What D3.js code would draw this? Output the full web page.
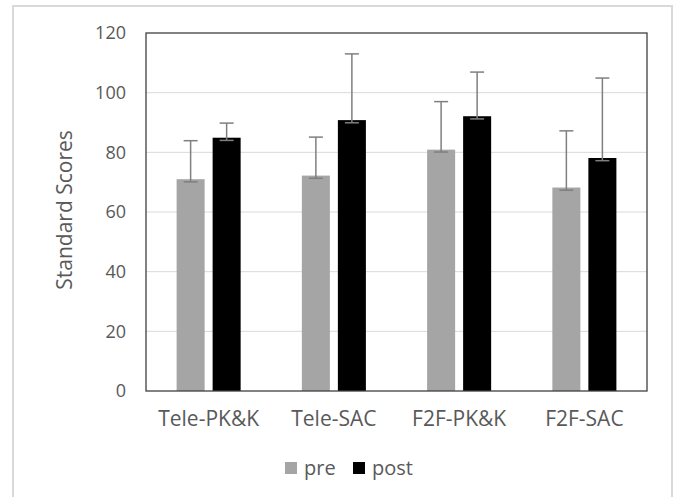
<!DOCTYPE html>
<html><head><meta charset="utf-8">
<script src="https://cdn.jsdelivr.net/npm/d3@7"></script>
<style>body{margin:0;background:#fff;} svg{display:block;}</style>
</head><body>
<svg id="chart" width="675" height="497"></svg>
<script>
const categories = ["Tele-PK&K", "Tele-SAC", "F2F-PK&K", "F2F-SAC"];
const series = ["pre", "post"];
const preValues = [71, 72.2, 80.9, 68.2];
const postValues = [84.9, 90.8, 92.1, 78.1];
const preErrTop = [83.9, 85.1, 97.0, 87.2];
const postErrTop = [89.8, 113.0, 106.9, 104.9];
const preErrLow = [70.1, 71.3, 80.1, 67.3];
const postErrLow = [84.0, 89.9, 91.2, 77.2];
const yTicks = [0, 20, 40, 60, 80, 100, 120];
const colors = {pre: "#a5a5a5", post: "#000000"};
const font = "'Open Sans', sans-serif";

const svg = d3.select("#chart");
svg.append("rect").attr("x", 13).attr("y", 6).attr("width", 659).attr("height", 500)
  .attr("fill", "#fff").attr("stroke", "#d9d9d9").attr("stroke-width", 2);

const m = {left: 146, right: 647, top: 33, bottom: 391};
const x = d3.scaleBand().domain(categories).range([m.left, m.right]).paddingInner(0).paddingOuter(0);
const xs = d3.scaleBand().domain(series).range([0, x.bandwidth()]).paddingInner(0.222).paddingOuter(0.85);
const y = d3.scaleLinear().domain([0, 120]).range([m.bottom, m.top]);

// gridlines
svg.append("g").selectAll("line").data(yTicks.filter(t => t > 0 && t < 120)).join("line")
  .attr("x1", m.left).attr("x2", m.right).attr("y1", d => y(d)).attr("y2", d => y(d))
  .attr("stroke", "#d9d9d9").attr("stroke-width", 1);

const data = categories.map((c, i) => ({c,
  vals: [
    {s: "pre", v: preValues[i], hi: preErrTop[i], lo: preErrLow[i]},
    {s: "post", v: postValues[i], hi: postErrTop[i], lo: postErrLow[i]}
  ]}));

const g = svg.append("g").selectAll("g").data(data).join("g")
  .attr("transform", d => `translate(${x(d.c)},0)`);
g.selectAll("rect").data(d => d.vals).join("rect")
  .attr("x", d => xs(d.s)).attr("width", xs.bandwidth())
  .attr("y", d => y(d.v)).attr("height", d => y(0) - y(d.v))
  .attr("fill", d => colors[d.s]);

// error bars
const eb = g.selectAll("g.eb").data(d => d.vals).join("g").attr("class", "eb");
const cw = 7;
eb.append("line").attr("x1", d => xs(d.s) + xs.bandwidth()/2).attr("x2", d => xs(d.s) + xs.bandwidth()/2)
  .attr("y1", d => y(d.hi)).attr("y2", d => y(d.lo)).attr("stroke", "#7f7f7f").attr("stroke-width", 1.5);
eb.append("line").attr("x1", d => xs(d.s) + xs.bandwidth()/2 - cw).attr("x2", d => xs(d.s) + xs.bandwidth()/2 + cw)
  .attr("y1", d => y(d.hi)).attr("y2", d => y(d.hi)).attr("stroke", "#7f7f7f").attr("stroke-width", 1.5);
eb.append("line").attr("x1", d => xs(d.s) + xs.bandwidth()/2 - cw).attr("x2", d => xs(d.s) + xs.bandwidth()/2 + cw)
  .attr("y1", d => y(d.lo)).attr("y2", d => y(d.lo)).attr("stroke", "#7f7f7f").attr("stroke-width", 1.5);

// frame
svg.append("rect").attr("x", m.left).attr("y", m.top).attr("width", m.right - m.left).attr("height", m.bottom - m.top)
  .attr("fill", "none").attr("stroke", "#404040").attr("stroke-width", 1.3);

// y axis
const ya = d3.axisLeft(y).tickValues(yTicks).tickSize(0).tickPadding(20);
const yg = svg.append("g").attr("transform", `translate(${m.left},0)`).call(ya);
yg.select(".domain").remove();
yg.attr("font-size", null).attr("font-family", null);
yg.selectAll("text").attr("fill", "#595959").style("font-family", font).style("font-size", "18px");

// x axis
const xa = d3.axisBottom(x).tickSize(0).tickPadding(20);
const xg = svg.append("g").attr("transform", `translate(0,${m.bottom})`).call(xa);
xg.select(".domain").remove();
xg.attr("font-size", null).attr("font-family", null);
xg.selectAll("text").attr("fill", "#595959").style("font-family", font).style("font-size", "21px");

// y label
svg.append("text").attr("transform", "translate(72,210) rotate(-90)").attr("text-anchor", "middle")
  .attr("fill", "#595959").style("font-family", font).style("font-size", "21px").text("Standard Scores");

// legend
const legendX = [285, 353];
const lg = svg.append("g").selectAll("g").data(series).join("g")
  .attr("transform", (d, i) => `translate(${legendX[i]},462)`);
lg.append("rect").attr("width", 12).attr("height", 12).attr("fill", d => colors[d]);
lg.append("text").attr("x", 19).attr("y", 13).attr("fill", "#595959")
  .style("font-family", font).style("font-size", "20px").text(d => d);
</script>
</body></html>
